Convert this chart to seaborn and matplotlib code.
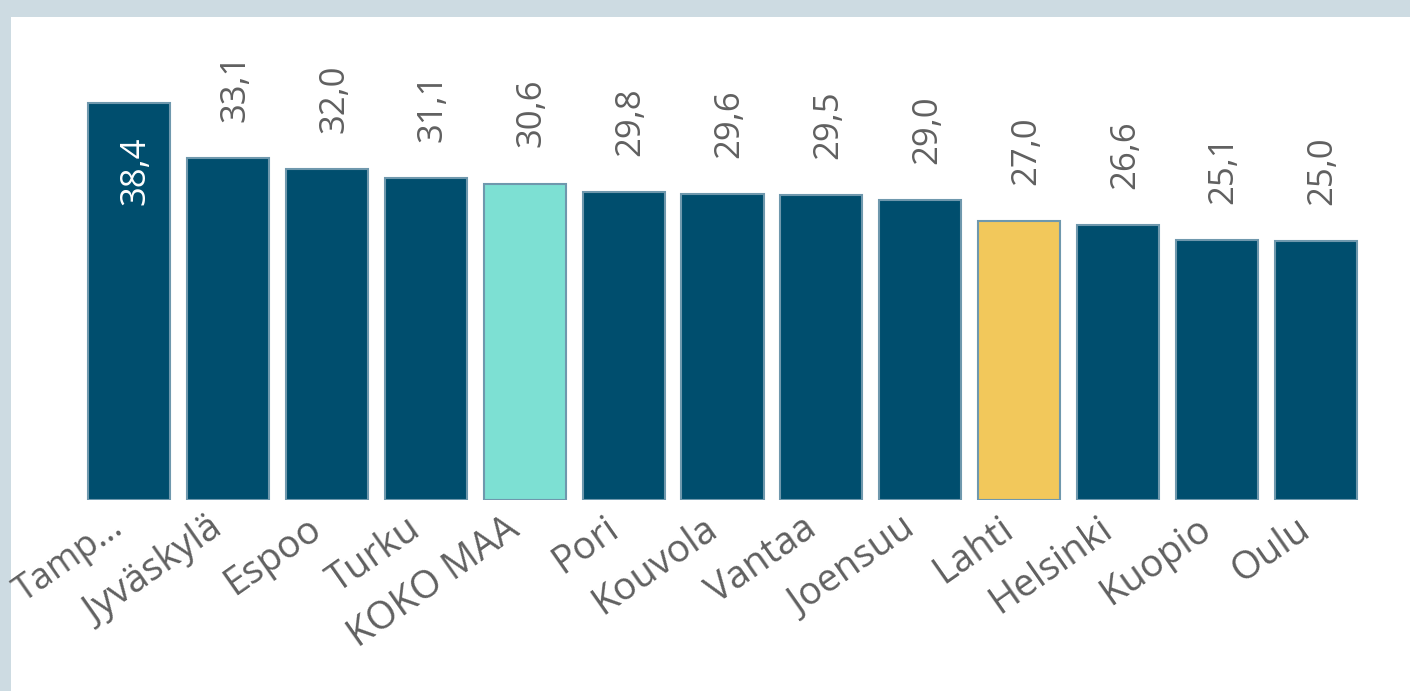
import matplotlib
matplotlib.use("Agg")
import matplotlib.pyplot as plt
import matplotlib.transforms as mtransforms
import seaborn as sns

categories = ["Tamp…", "Jyväskylä", "Espoo", "Turku", "KOKO MAA", "Pori", "Kouvola",
              "Vantaa", "Joensuu", "Lahti", "Helsinki", "Kuopio", "Oulu"]
values = [38.4, 33.1, 32.0, 31.1, 30.6, 29.8, 29.6, 29.5, 29.0, 27.0, 26.6, 25.1, 25.0]
value_labels = ["38,4", "33,1", "32,0", "31,1", "30,6", "29,8", "29,6", "29,5", "29,0",
                "27,0", "26,6", "25,1", "25,0"]

NAVY = "#004e6e"
TEAL = "#7de0d3"
YELLOW = "#f2c85b"
colors = [TEAL if c == "KOKO MAA" else YELLOW if c == "Lahti" else NAVY for c in categories]

sns.set_theme(style="white")
plt.rcParams["font.family"] = ["Open Sans", "DejaVu Sans"]

W, H = 1410, 691
fig = plt.figure(figsize=(W / 100, H / 100), dpi=100)
fig.patch.set_facecolor("#cddbe2")
bg = fig.add_axes([11 / W, 0, 1 - 11 / W, 1 - 17 / H], zorder=-10)
bg.set_facecolor("white")
bg.set_xticks([]); bg.set_yticks([])
for s in bg.spines.values():
    s.set_visible(False)

ax = fig.add_axes([80 / W, 191 / H, 1285 / W, 413.6 / H])
ax.set_facecolor("none")
sns.barplot(x=categories, y=values, hue=categories, palette=colors, legend=False,
            width=0.83, saturation=1, ax=ax, edgecolor="#6f98ad", linewidth=1.5)
ax.set_ylim(0, 40)
ax.set_xlim(-0.5, len(categories) - 0.5)
for s in ax.spines.values():
    s.set_visible(False)
ax.set_yticks([])
ax.set_xlabel("")
ax.set_ylabel("")
ax.tick_params(axis="x", length=0, pad=12)
shift = mtransforms.ScaledTranslation(-20 / 100, 7 / 100, fig.dpi_scale_trans)
for k, lab in enumerate(ax.get_xticklabels()):
    lab.set_rotation(35)
    lab.set_ha("right")
    lab.set_rotation_mode("anchor")
    lab.set_fontsize(26 if k == 0 else 27.5)
    lab.set_color("#606060")
    lab.set_transform(lab.get_transform() + shift)

for i, (v, t) in enumerate(zip(values, value_labels)):
    if i == 0:
        ax.annotate(t, xy=(i, v), xytext=(4, -24), textcoords="offset points",
                    rotation=90, ha="center", va="top", fontsize=25, color="white")
    else:
        ax.annotate(t, xy=(i, v), xytext=(5, 26), textcoords="offset points",
                    rotation=90, ha="center", va="bottom", fontsize=25, color="#606060")

fig.savefig("out.png", dpi=100, facecolor=fig.get_facecolor())
